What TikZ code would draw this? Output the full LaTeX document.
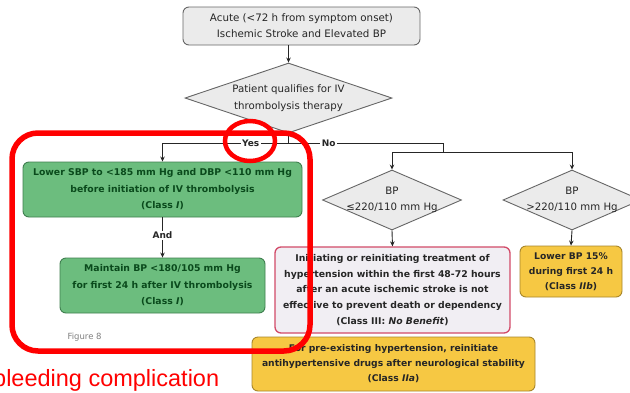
\documentclass[tikz,border=0pt]{standalone}
\usepackage{fontspec}
\setmainfont{DejaVu Sans}
\newfontfamily\redfont{Liberation Sans}
\usetikzlibrary{shapes.geometric,arrows.meta,calc}
\definecolor{grayfill}{HTML}{EBEBEB}
\definecolor{grayline}{HTML}{666666}
\definecolor{greenfill}{HTML}{6CBD7E}
\definecolor{greenline}{HTML}{3F7F4F}
\definecolor{greentext}{HTML}{0A4A1C}
\definecolor{pinkfill}{HTML}{F1EEF3}
\definecolor{pinkline}{HTML}{D24A68}
\definecolor{yelfill}{HTML}{F6C843}
\definecolor{yelline}{HTML}{A8862A}
\definecolor{txt}{HTML}{262626}
\definecolor{annot}{HTML}{FF0000}
\tikzset{
  box/.style={rectangle, rounded corners=6pt, inner sep=0pt, align=center, line width=0.9pt},
  graybox/.style={box, draw=grayline, fill=grayfill, text=txt, font=\fontsize{10.3}{16}\selectfont},
  greenbox/.style={box, draw=greenline, fill=greenfill, text=greentext, font=\bfseries\fontsize{9.3}{16.5}\selectfont},
  pinkbox/.style={box, draw=pinkline, fill=pinkfill, text=txt, line width=1.3pt, font=\bfseries\fontsize{9.3}{15.6}\selectfont},
  yelbox/.style={box, draw=yelline, fill=yelfill, text=txt, font=\bfseries\fontsize{9.2}{15}\selectfont},
  dia/.style={diamond, draw=grayline, fill=grayfill, inner sep=0pt, line width=0.9pt},
  diatext/.style={align=center, text=txt, font=\fontsize{10.2}{16.5}\selectfont},
  conn/.style={draw=black!85, line width=0.9pt},
  arr/.style={conn, -{Stealth[length=5pt,width=4.5pt]}},
  lab/.style={fill=white, inner sep=1.5pt, text=txt, font=\bfseries\fontsize{9}{10}\selectfont},
  redmark/.style={draw=annot, line width=5.5pt}
}
\begin{document}
\begin{tikzpicture}[x=1pt,y=-1pt]
\useasboundingbox (0,0) rectangle (630,392);
\fill[white] (0,0) rectangle (630,392);

\node[graybox, minimum width=237pt, minimum height=38pt] (top) at (301.5,26) {Acute (<72 h from symptom onset)\\Ischemic Stroke and Elevated BP};
\node[dia, minimum width=207pt, minimum height=70pt] (d1) at (288.5,98) {};
\node[diatext] (d1t) at (d1.center) {Patient qualifies for IV\\thrombolysis therapy};

\node[greenbox, minimum width=279pt, minimum height=55pt] (g1) at (162.5,189.5) {Lower SBP to <185 mm Hg and DBP <110 mm Hg\\before initiation of IV thrombolysis\\(Class \textit{I})};
\node[greenbox, minimum width=205pt, minimum height=55pt] (g2) at (162.5,285.5) {Maintain BP <180/105 mm Hg\\for first 24 h after IV thrombolysis\\(Class \textit{I})};

\node[dia, minimum width=139pt, minimum height=60pt] (d2) at (392,200) {};
\node[diatext] (d2t) at (d2.center) {BP\\≤220/110 mm Hg};
\node[dia, minimum width=138pt, minimum height=60pt] (d3) at (572,200) {};
\node[diatext] (d3t) at (d3.center) {BP\\>220/110 mm Hg};

\node[pinkbox, minimum width=235pt, minimum height=86pt] (pk) at (392.5,290) {Initiating or reinitiating treatment of\\hypertension within the first 48-72 hours\\after an acute ischemic stroke is not\\effective to prevent death or dependency\\(Class III: \textit{No Benefit})};
\node[yelbox, minimum width=102pt, minimum height=51pt] (y1) at (571,271.5) {Lower BP 15\%\\during first 24 h\\(Class \textit{IIb})};
\node[yelbox, minimum width=283pt, minimum height=54pt] (y2) at (393.5,364) {For pre-existing hypertension, reinitiate\\antihypertensive drugs after neurological stability\\(Class \textit{IIa})};

\node[text=black!50, font=\fontsize{8.5}{9}\selectfont, anchor=west] (fig) at (64,337) {Figure 8};

% connectors
\draw[arr] (d1.north |- top.south) -- (d1.north);
\coordinate (j) at ($(d1.south)+(0,10)$);
\draw[conn] (d1.south) -- (j);
\draw[arr] (j) -- node[lab, pos=0.3] (yes) {Yes} (j -| g1.north) -- (g1.north);
\coordinate (k) at (443,152);
\draw[conn] (j) -- node[lab, pos=0.26] (no) {No} (k |- j) -- (k);
\draw[arr] (k) -| (d2.north);
\draw[arr] (k) -| (d3.north);
\draw[arr] (g1.south) -- node[lab, pos=0.45] (and) {And} (g2.north);
\draw[arr] (d2.south) -- (pk.north);
\draw[arr] (d3.south) -- (y1.north);

% red annotations
\draw[redmark, rounded corners=26pt] (12,133) rectangle (310,351);
\draw[redmark, line width=4.5pt] (250,141) ellipse [x radius=25pt, y radius=20pt];
\node[text=annot, font=\redfont\fontsize{23.5}{25}\selectfont, anchor=base west, inner sep=0pt] (bc) at (-7,386) {bleeding complication};
\end{tikzpicture}
\end{document}
